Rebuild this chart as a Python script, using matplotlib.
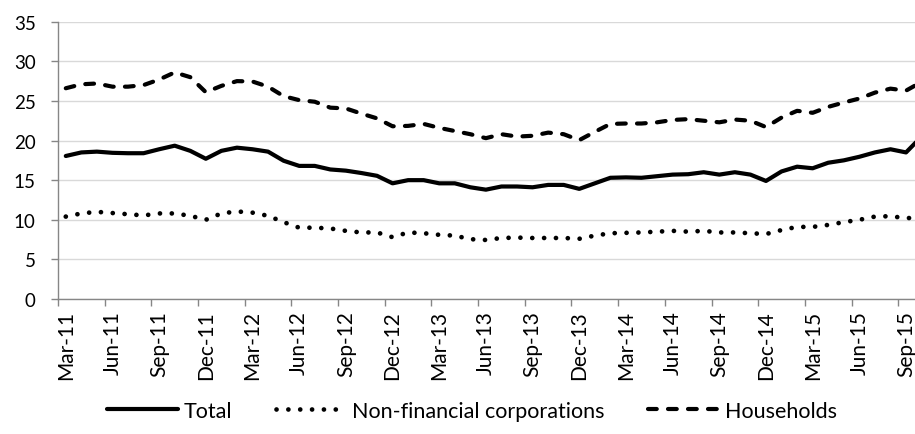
import matplotlib
matplotlib.use("Agg")
import matplotlib.pyplot as plt
import numpy as np

plt.rcParams['font.family'] = ['Lato', 'DejaVu Sans']

months = ["Mar", "Apr", "May", "Jun", "Jul", "Aug", "Sep", "Oct", "Nov", "Dec", "Jan", "Feb"]
start_year = 11
n_points = 56

total = [18.05, 18.5, 18.6, 18.45, 18.4, 18.4, 18.9, 19.35, 18.7, 17.7,
         18.7, 19.1, 18.9, 18.6, 17.45, 16.8, 16.8, 16.35, 16.2, 15.9,
         15.55, 14.6, 15.0, 15.0, 14.6, 14.6, 14.1, 13.8, 14.2, 14.2,
         14.1, 14.4, 14.4, 13.9, 14.6, 15.3, 15.35, 15.3, 15.5, 15.7,
         15.75, 16.0, 15.7, 16.0, 15.7, 14.9, 16.1, 16.7, 16.5, 17.2,
         17.5, 17.95, 18.5, 18.9, 18.5, 20.5]

nfc = [10.4, 10.8, 11.0, 10.85, 10.7, 10.55, 10.8, 10.8, 10.5, 10.0,
       10.8, 11.05, 10.9, 10.5, 9.7, 9.0, 9.0, 8.9, 8.6, 8.4,
       8.4, 7.8, 8.4, 8.3, 8.1, 8.0, 7.55, 7.45, 7.7, 7.75,
       7.7, 7.7, 7.7, 7.6, 8.0, 8.3, 8.35, 8.4, 8.5, 8.6,
       8.5, 8.6, 8.4, 8.4, 8.3, 8.2, 8.7, 9.1, 9.1, 9.35,
       9.7, 10.0, 10.4, 10.45, 10.2, 10.3]

households = [26.6, 27.1, 27.2, 26.8, 26.8, 27.0, 27.7, 28.6, 28.0, 26.1,
              26.9, 27.5, 27.45, 26.8, 25.6, 25.1, 24.9, 24.15, 24.05, 23.4,
              22.8, 21.8, 21.85, 22.1, 21.6, 21.2, 20.8, 20.3, 20.8, 20.5,
              20.6, 21.0, 20.8, 20.05, 21.1, 22.1, 22.15, 22.15, 22.3, 22.6,
              22.7, 22.5, 22.3, 22.65, 22.5, 21.7, 22.9, 23.75, 23.5, 24.25,
              24.8, 25.3, 26.05, 26.55, 26.3, 27.4]

labels = []
for i in range(n_points):
    m = months[i % 12]
    yr = start_year + (i + 2) // 12
    labels.append(f"{m}-{yr}")

x = np.arange(n_points)

fig = plt.figure(figsize=(9.15, 4.35), dpi=100)
W, H = 915, 435
left_px, right_px = 58, 58 + 56 * 15.56
top_px, bot_px = 22.7, 300
ax = fig.add_axes([left_px / W, (H - bot_px) / H, (right_px - left_px) / W, (bot_px - top_px) / H])

lw = 3.0
l1, = ax.plot(x, total, color='black', lw=lw, solid_joinstyle='round', solid_capstyle='round', label='Total')
l2, = ax.plot(x, nfc, color='black', lw=3.4, dash_capstyle='round', label='Non-financial corporations')
l2.set_dashes([0.01, 2.5])
l3, = ax.plot(x, households, color='black', lw=lw, dash_capstyle='round', label='Households')
l3.set_dashes([2.1, 2.7])

ax.set_xlim(-0.5, n_points - 0.5)
ax.set_ylim(0, 35)
ax.set_yticks(np.arange(0, 36, 5))
ax.yaxis.grid(True, color='#d9d9d9', lw=1.0)
ax.set_axisbelow(True)

ax.set_xticks(x[::3])
ax.set_xticklabels(labels[::3], rotation=90, fontsize=15)
ax.set_xticks(np.arange(-0.5, n_points, 3), minor=True)
ax.tick_params(axis='x', which='major', length=0, pad=8)
ax.tick_params(axis='x', which='minor', length=5, color='#868686', width=1)
ax.tick_params(axis='y', length=5, color='#868686', width=1, labelsize=13.5, pad=11)

for s in ['top', 'right']:
    ax.spines[s].set_visible(False)
for s in ['left', 'bottom']:
    ax.spines[s].set_color('#868686')
    ax.spines[s].set_linewidth(1.0)

fig.legend(handles=[l1, l2, l3], loc='center', bbox_to_anchor=(472 / W, (H - 412) / H),
           ncol=3, frameon=False, fontsize=15.5, handlelength=3.3, handletextpad=0.27,
           columnspacing=2.0)

fig.savefig('out.png', dpi=100)
